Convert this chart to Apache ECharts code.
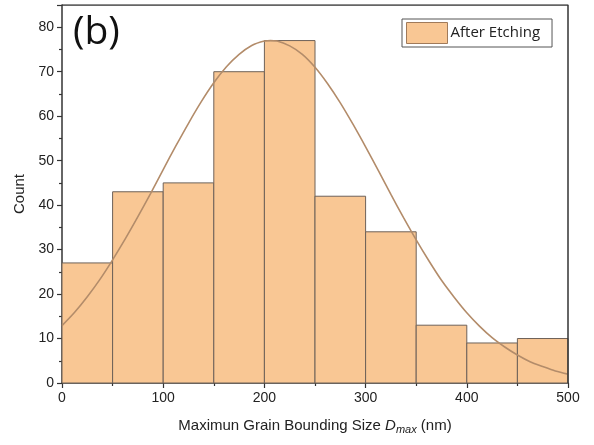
<!DOCTYPE html>
<html><head><meta charset="utf-8">
<script src="https://cdn.jsdelivr.net/npm/echarts@6/dist/echarts.min.js"></script>
<style>html,body{margin:0;padding:0;background:#fff}#c{width:594px;height:445px}</style>
</head><body><div id="c"></div>
<script>
const binStarts = [0, 50, 100, 150, 200, 250, 300, 350, 400, 450];
const binWidth = 50;
const counts = [27, 43, 45, 70, 77, 42, 34, 13, 9, 10];
const curveX = [0, 12.5, 25, 37.5, 50, 62.5, 75, 87.5, 100, 112.5, 125, 137.5, 150, 162.5, 175, 187.5, 200, 206, 212.5, 225, 237.5, 250, 262.5, 275, 287.5, 300, 312.5, 325, 337.5, 350, 362.5, 375, 387.5, 400, 412.5, 425, 437.5, 450, 462.5, 475, 487.5, 500];
const curveY = [12.9, 15.9, 19.4, 23.3, 27.7, 32.4, 37.4, 42.6, 48.0, 53.3, 58.4, 63.2, 67.5, 71.1, 73.9, 75.9, 76.9, 77.0, 76.9, 75.8, 73.9, 71.0, 67.3, 63.0, 58.2, 53.1, 47.8, 42.4, 37.2, 32.2, 27.5, 23.1, 19.3, 15.8, 12.8, 10.2, 8.1, 6.3, 4.8, 3.7, 2.7, 2.0];
const xTicks = [0, 100, 200, 300, 400, 500];
const yTicks = [0, 10, 20, 30, 40, 50, 60, 70, 80];
const seriesName = 'After Etching';

const barFill = '#F9C794';
const barBorder = '#6e6259';
const curveColor = '#B38C6A';
const axisColor = '#333';
const font = 'Liberation Sans, Arial, sans-serif';

const chart = echarts.init(document.getElementById('c'), null, {renderer: 'canvas'});
chart.setOption({
  animation: false,
  grid: {left: 62, right: 26, top: 5, bottom: 62, show: false},
  legend: {
    left: 402, top: 19, orient: 'vertical',
    borderColor: '#555', borderWidth: 1, padding: [3, 12, 3, 4],
    itemWidth: 41, itemHeight: 21, itemGap: 0,
    textStyle: {fontFamily: 'Open Sans, Liberation Sans, sans-serif', fontSize: 15, color: '#222', padding: [0, 0, 0, -2]},
    data: [{name: seriesName, icon: 'rect', itemStyle: {color: barFill, borderColor: '#a07a5a', borderWidth: 1}}]
  },
  graphic: [{type: 'text', left: 73, top: 13, style: {text: '(b)', font: '39px "Open Sans", "Liberation Sans", sans-serif', fill: '#111'}}],
  xAxis: {
    type: 'value', min: 0, max: 500, interval: 100,
    axisLine: {show: true, lineStyle: {color: axisColor, width: 1.5}},
    axisTick: {show: true, length: 5, inside: false, lineStyle: {color: axisColor, width: 1.2}},
    minorTick: {show: true, splitNumber: 2, length: 3, lineStyle: {color: axisColor, width: 1.2}},
    splitLine: {show: false},
    axisLabel: {color: '#222', fontFamily: font, fontSize: 14, margin: 8,
      formatter: v => xTicks.includes(v) ? String(v) : ''},
    name: '{a|Maximun Grain Bounding Size }{i|D}{s|max}{a| (nm)}',
    nameLocation: 'middle', nameGap: 33,
    nameTextStyle: {
      rich: {
        a: {fontFamily: font, fontSize: 15, color: '#222'},
        i: {fontFamily: font, fontSize: 15, fontStyle: 'italic', color: '#222'},
        s: {fontFamily: font, fontSize: 11, fontStyle: 'italic', color: '#222', padding: [8, 0, 0, 0]}
      }
    }
  },
  yAxis: {
    type: 'value', min: 0, max: 85, interval: 10,
    axisLine: {show: true, lineStyle: {color: axisColor, width: 1.5}},
    axisTick: {show: true, length: 5, inside: false, lineStyle: {color: axisColor, width: 1.2}},
    minorTick: {show: true, splitNumber: 2, length: 3, lineStyle: {color: axisColor, width: 1.2}},
    splitLine: {show: false},
    axisLabel: {color: '#222', fontFamily: font, fontSize: 14, margin: 8,
      formatter: v => yTicks.includes(v) ? String(v) : ''},
    name: 'Count', nameLocation: 'middle', nameGap: 32, nameRotate: 90,
    nameTextStyle: {fontFamily: font, fontSize: 15, color: '#222'}
  },
  series: [
    {
      name: seriesName, type: 'custom',
      itemStyle: {color: barFill, borderColor: barBorder, borderWidth: 1},
      data: binStarts.map((s, i) => [s, s + binWidth, counts[i]]),
      encode: {x: [0, 1], y: 2},
      renderItem: (params, api) => {
        const p0 = api.coord([api.value(0), 0]);
        const p1 = api.coord([api.value(1), api.value(2)]);
        return {
          type: 'rect',
          shape: {x: p0[0], y: p1[1], width: p1[0] - p0[0], height: p0[1] - p1[1]},
          style: {fill: barFill, stroke: barBorder, lineWidth: 1}
        };
      },
      z: 2
    },
    {
      name: 'fit', type: 'line', smooth: 0.3, symbol: 'none',
      lineStyle: {color: curveColor, width: 1.6},
      data: curveX.map((x, i) => [x, curveY[i]]),
      z: 3
    },
    {
      name: 'frame', type: 'line', symbol: 'none', silent: true,
      lineStyle: {color: axisColor, width: 1.5},
      data: [[0, 85], [500, 85], [500, 0]],
      z: 4
    }
  ]
});
</script></body></html>
